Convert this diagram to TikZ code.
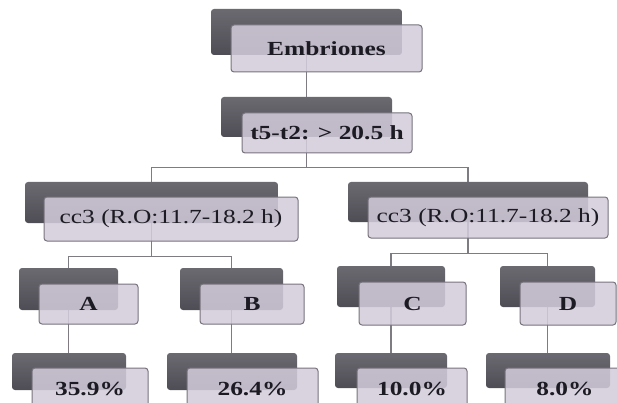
\documentclass[tikz,border=0pt]{standalone}
\usepackage{fontspec}
\setmainfont{Liberation Serif}
\usetikzlibrary{backgrounds}
\definecolor{dkTop}{HTML}{6C6A71}
\definecolor{dkBot}{HTML}{4E4C54}
\definecolor{lbFill}{HTML}{D3CCDB}
\definecolor{lbBorder}{HTML}{77737D}
\definecolor{connC}{HTML}{7E7C82}
\definecolor{txt}{HTML}{1C1A22}
\newcommand{\sx}[1]{\scalebox{1.27}[1]{#1}}
\tikzset{
  darkbox/.style={rectangle, rounded corners=3pt, draw=none, top color=dkTop, bottom color=dkBot, inner sep=0pt},
  lightbox/.style={rectangle, rounded corners=3pt, draw=lbBorder, line width=1pt, fill=lbFill, fill opacity=0.86, text opacity=1, inner sep=0pt, text=txt, font=\fontsize{20}{24}\selectfont},
  conn/.style={draw=connC, line width=1.1pt},
}
\begin{document}
\begin{tikzpicture}[x=1pt,y=-1pt]
\useasboundingbox (0,0) rectangle (617,403);
\clip (0,0) rectangle (617,403);
% level 1
\node[darkbox, minimum width=191pt, minimum height=46pt] (d1) at (306.5,32) {};
\node[lightbox, minimum width=191pt, minimum height=47pt] (l1) at (326.5,48.5) {\sx{\bfseries Embriones}};
% level 2
\node[darkbox, minimum width=171pt, minimum height=40pt] (d2) at (306.5,117) {};
\node[lightbox, minimum width=170pt, minimum height=40pt] (l2) at (327,133) {\sx{\bfseries t5-t2: > 20.5 h}};
% level 3
\node[darkbox, minimum width=253pt, minimum height=41pt] (d3) at (151.5,202.5) {};
\node[lightbox, minimum width=254pt, minimum height=44pt] (l3) at (171,219) {\sx{cc3 (R.O:11.7-18.2 h)}};
\node[darkbox, minimum width=240pt, minimum height=40pt] (d4) at (468,202) {};
\node[lightbox, minimum width=240pt, minimum height=41pt] (l4) at (488,217.5) {\sx{cc3 (R.O:11.7-18.2 h)}};
% level 4
\node[darkbox, minimum width=99pt, minimum height=42pt] (d5) at (68.5,289) {};
\node[lightbox, minimum width=99pt, minimum height=40pt] (l5) at (88.5,304) {\sx{\bfseries A}};
\node[darkbox, minimum width=103pt, minimum height=42pt] (d6) at (231.5,289) {};
\node[lightbox, minimum width=104pt, minimum height=40pt] (l6) at (252,304) {\sx{\bfseries B}};
\node[darkbox, minimum width=108pt, minimum height=41pt] (d7) at (391,286.5) {};
\node[lightbox, minimum width=107pt, minimum height=43pt] (l7) at (412.5,303.5) {\sx{\bfseries C}};
\node[darkbox, minimum width=95pt, minimum height=41pt] (d8) at (547.5,286.5) {};
\node[lightbox, minimum width=96pt, minimum height=43pt] (l8) at (568,303.5) {\sx{\bfseries D}};
% level 5
\node[darkbox, minimum width=114pt, minimum height=37pt] (d9) at (69,371.5) {};
\node[lightbox, minimum width=116pt, minimum height=42pt] (l9) at (90,389) {\sx{\bfseries 35.9\%}};
\node[darkbox, minimum width=130pt, minimum height=37pt] (d10) at (232,371.5) {};
\node[lightbox, minimum width=131pt, minimum height=42pt] (l10) at (252.5,389) {\sx{\bfseries 26.4\%}};
\node[darkbox, minimum width=112pt, minimum height=35pt] (d11) at (391,370.5) {};
\node[lightbox, minimum width=110pt, minimum height=42pt] (l11) at (412,389) {\sx{\bfseries 10.0\%}};
\node[darkbox, minimum width=124pt, minimum height=35pt] (d12) at (548,370.5) {};
\node[lightbox, minimum width=120pt, minimum height=42pt] (l12) at (565,389) {\sx{\bfseries 8.0\%}};
% connectors
\begin{pgfonlayer}{background}
\draw[conn] (d1.south) -- (d2.north);
\draw[conn] (d2.south) -- ++(0,30) -| (d3.north);
\draw[conn] (d2.south) -- ++(0,30) -| (d4.north);
\draw[conn] (d3.south) -- ++(0,33) -| (d5.north);
\draw[conn] (d3.south) -- ++(0,33) -| (d6.north);
\draw[conn] (d4.south) -- ++(0,31) -| (d7.north);
\draw[conn] (d4.south) -- ++(0,31) -| (d8.north);
\draw[conn] (d5.south) -- (d5.south |- d9.north);
\draw[conn] (d6.south) -- (d6.south |- d10.north);
\draw[conn] (d7.south) -- (d7.south |- d11.north);
\draw[conn] (d8.south) -- (d8.south |- d12.north);
\end{pgfonlayer}
\end{tikzpicture}
\end{document}
